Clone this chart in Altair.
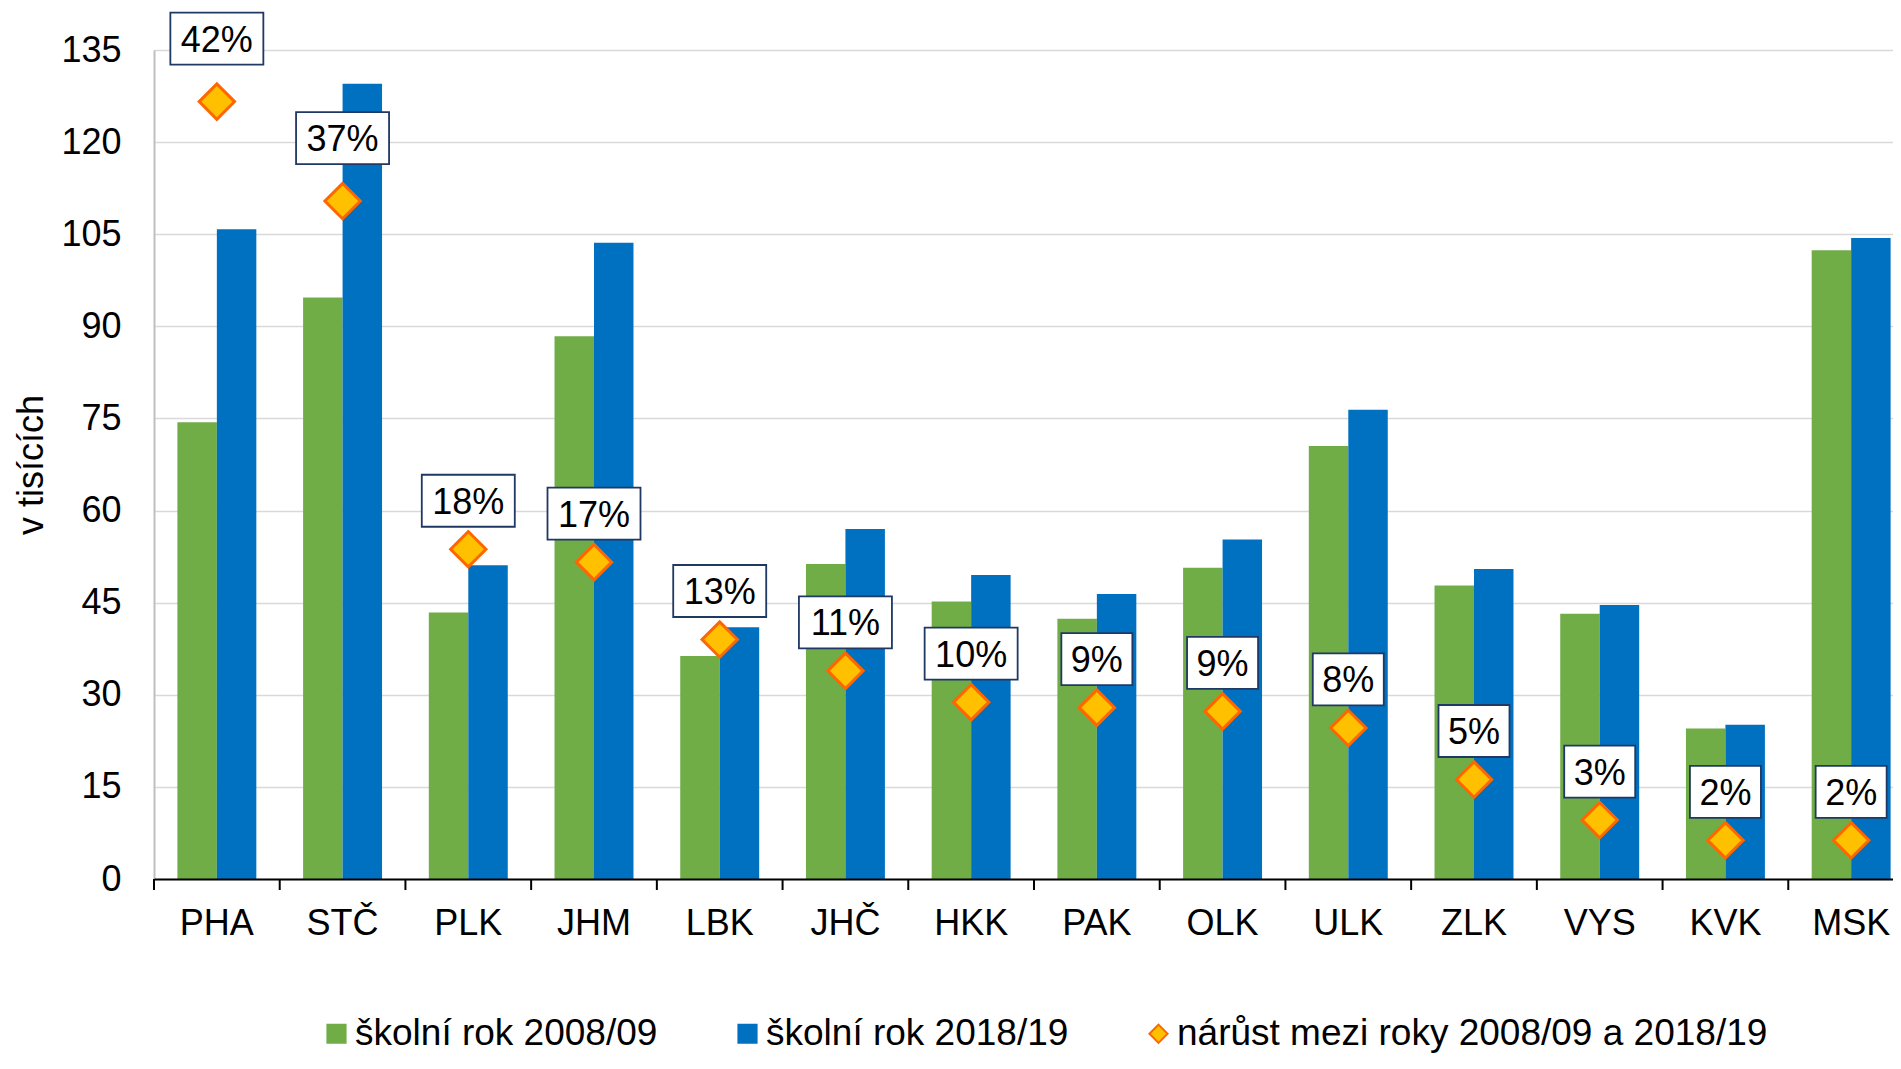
import altair as alt
import pandas as pd

categories = ["PHA", "STČ", "PLK", "JHM", "LBK", "JHČ", "HKK", "PAK", "OLK", "ULK", "ZLK", "VYS", "KVK", "MSK"]
values_2008 = [74.4, 94.7, 43.4, 88.4, 36.3, 51.3, 45.2, 42.4, 50.7, 70.5, 47.8, 43.2, 24.5, 102.4]
values_2018 = [105.8, 129.5, 51.1, 103.6, 41.0, 57.0, 49.5, 46.4, 55.3, 76.4, 50.5, 44.6, 25.1, 104.4]
growth_pct = [42.2, 36.8, 17.9, 17.2, 13.0, 11.3, 9.6, 9.3, 9.1, 8.2, 5.4, 3.2, 2.1, 2.1]
raised_labels = ["PHA", "STČ"]

s1 = "školní rok 2008/09"
s2 = "školní rok 2018/19"
s3 = "nárůst mezi roky 2008/09 a 2018/19"
legend_items = [s1, s2, s3]

GREEN = "#70AD47"
BLUE = "#0070C0"
YELLOW = "#FFC000"
ORANGE = "#FF6600"
NAVY = "#1F3864"
FONT = "Liberation Sans, Arial, sans-serif"

bars_df = pd.DataFrame(
    [{"cat": c, "series": s1, "value": v} for c, v in zip(categories, values_2008)]
    + [{"cat": c, "series": s2, "value": v} for c, v in zip(categories, values_2018)]
)
growth_df = pd.DataFrame({
    "cat": categories,
    "growth": growth_pct,
    "series": s3,
})
growth_df["label"] = [f"{round(g)}%" for g in growth_pct]
growth_df["raised"] = growth_df["cat"].isin(raised_labels)
growth_df["wide"] = growth_df["label"].str.len() > 2

PLOT_W = 1739
BAND_RANGE = [0, 1760]
PAD_IN = 0.372
PAD_OUT = PAD_IN / 2
STEP = BAND_RANGE[1] / len(categories)

def legend():
    return alt.Legend(
        title=None, orient="none", legendX=164, legendY=965, direction="horizontal",
        labelFontSize=37, labelFont=FONT, labelColor="black", symbolSize=330,
        symbolStrokeWidth=2, columnPadding=71, labelOffset=0, padding=0, labelLimit=1000,
    )

x_enc = alt.X(
    "cat:N",
    sort=categories,
    scale=alt.Scale(paddingInner=PAD_IN, paddingOuter=PAD_OUT, range=BAND_RANGE),
    axis=alt.Axis(
        title=None, labelAngle=0, labelFontSize=36, labelColor="black",
        labelFont=FONT, ticks=False, domainColor="black", domainWidth=2,
        labelPadding=27, grid=False, zindex=1,
    ),
)

bars = alt.Chart(bars_df).mark_bar().encode(
    x=x_enc,
    xOffset=alt.XOffset("series:N", sort=[s1, s2], scale=alt.Scale(paddingInner=0, paddingOuter=0)),
    y=alt.Y(
        "value:Q",
        scale=alt.Scale(domain=[0, 135], nice=False),
        axis=alt.Axis(
            values=list(range(0, 136, 15)), grid=True, gridColor="#D9D9D9", gridWidth=1.5,
            domainColor="#BFBFBF", domainWidth=2, ticks=False, labelFontSize=36,
            labelColor="black", labelFont=FONT, labelPadding=33,
            title="v tisících", titleFontSize=36, titleFontWeight="normal",
            titleFont=FONT, titleColor="black", titlePadding=10,
        ),
    ),
    color=alt.Color("series:N", scale=alt.Scale(domain=legend_items, range=[GREEN, BLUE, YELLOW]),
                    legend=legend()),
)

ticks = alt.Chart(growth_df).mark_rule(
    color="black", strokeWidth=2, y2Offset=11, xOffset=-PAD_OUT * STEP
).encode(
    x=alt.X("cat:N", sort=categories, bandPosition=0),
    y=alt.Y(datum=0),
    y2=alt.Y2(datum=0),
)

left_group = alt.layer(bars, ticks)

gy = alt.Y("growth:Q", scale=alt.Scale(domain=[0, 45], nice=False), axis=None)
gx = alt.X("cat:N", sort=categories)

diamonds = alt.Chart(growth_df).mark_point(filled=True, size=1250, strokeWidth=3, opacity=1).encode(
    x=gx,
    y=gy,
    color=alt.Color("series:N", scale=alt.Scale(domain=legend_items, range=[GREEN, BLUE, YELLOW]),
                    legend=legend()),
    shape=alt.Shape("series:N", scale=alt.Scale(domain=legend_items, range=["square", "square", "diamond"]),
                    legend=legend()),
    stroke=alt.Stroke("series:N", scale=alt.Scale(domain=legend_items, range=[GREEN, BLUE, ORANGE]),
                      legend=legend()),
)

def boxes(wide, raised, off):
    w = 93 if wide else 71
    src = alt.Chart(growth_df).transform_filter(
        (alt.datum.wide == wide) & (alt.datum.raised == raised)
    )
    return src.mark_rect(width=w, height=52, fill="white", stroke=NAVY, strokeWidth=1.8, yOffset=off).encode(
        x=gx, y=gy)

def texts(raised, off):
    src = alt.Chart(growth_df).transform_filter(alt.datum.raised == raised)
    return src.mark_text(fontSize=36, font=FONT, color="black", baseline="middle", yOffset=off, dy=2).encode(
        x=gx, y=gy, text="label:N")

LOW = -48.5
HIGH = -63
right_group = alt.layer(
    diamonds,
    boxes(True, False, LOW), boxes(False, False, LOW), boxes(True, True, HIGH),
    texts(False, LOW), texts(True, HIGH),
)

chart = alt.layer(left_group, right_group).resolve_scale(y="independent").properties(
    width=PLOT_W, height=829,
    autosize=alt.AutoSizeParams(type="none"),
    padding={"left": 146, "top": 42, "right": 0, "bottom": 176},
).configure_view(stroke=None).configure(font=FONT)

chart.save("out.html", embed_options={"renderer": "svg", "actions": False})
